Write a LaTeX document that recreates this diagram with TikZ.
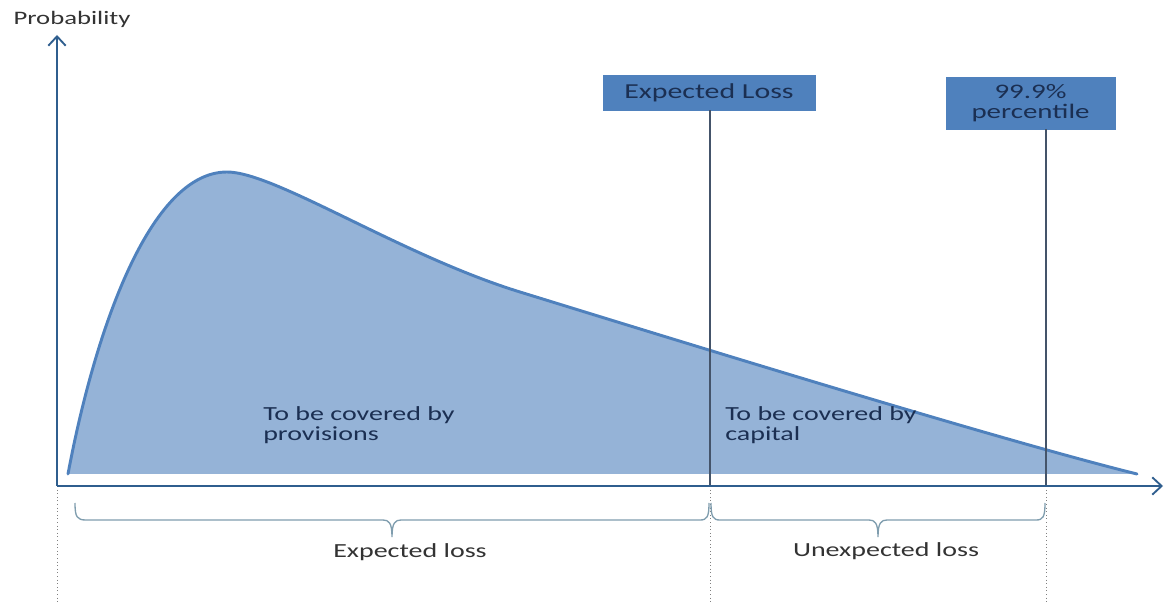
\documentclass[tikz,border=0pt]{standalone}
\usepackage{fontspec}
\setmainfont[FakeStretch=1.4]{Carlito}
\usetikzlibrary{arrows.meta}
\definecolor{areafill}{HTML}{95B3D7}
\definecolor{curveline}{HTML}{4F81BD}
\definecolor{boxfill}{HTML}{4F81BD}
\definecolor{navy}{HTML}{1B2F52}
\definecolor{axiscol}{HTML}{2F5E8E}
\definecolor{vlinecol}{HTML}{44546A}
\definecolor{bracecol}{HTML}{7F9DAE}
\definecolor{labelcol}{HTML}{333333}
\tikzset{
  axis/.style={draw=axiscol, line width=1.6pt, -{Straight Barb[length=7pt,width=13pt,line width=1.4pt]}},
  markbox/.style={fill=boxfill, draw=boxfill, text=navy, inner sep=0pt, align=center,
    font=\fontsize{15.5}{15}\selectfont},
  vline/.style={draw=vlinecol, line width=0.9pt},
  dotline/.style={draw=gray, line width=0.7pt, dotted},
  bracestyle/.style={draw=bracecol, line width=1pt},
  areatext/.style={text=navy, align=left, anchor=north west, inner sep=0pt,
    font=\fontsize{15}{15.5}\selectfont},
  bottomlabel/.style={text=labelcol, inner sep=0pt, font=\fontsize{15}{18}\selectfont},
}
\def\lossdist{(68,474) .. controls (95,330) and (150,172) .. (227,172)
  .. controls (275,172) and (400,255) .. (520,292)
  .. controls (700,347.5) and (1000,440) .. (1137,474)}
\begin{document}
\begin{tikzpicture}[x=0.75pt,y=-0.75pt]
\useasboundingbox (0,0) rectangle (1165,602);
% filled distribution
\fill[areafill] \lossdist -- cycle;
\draw[curveline, line width=2.2pt, line cap=round] \lossdist;
% nodes
\node (prob) [text=labelcol, inner sep=0pt, font=\fontsize{14.3}{16}\selectfont] at (72,19) {Probability};
\node (el) [markbox, font=\fontsize{16}{16}\selectfont, minimum width=159pt, minimum height=26.25pt] at (709,92.5) {Expected Loss};
\node (pc) [markbox, minimum width=126.75pt, minimum height=39pt] at (1030.5,103) {99.9\%\\percentile};
\coordinate (origin) at (57,486);
\coordinate (ytip) at (57,35);
\coordinate (xtip) at (1163,486);
\coordinate (elbase) at (710,486);
\coordinate (pcbase) at (1046,486);
% vertical lines
\draw[vline] (el.south -| elbase) -- (elbase);
\draw[vline] (pc.south -| pcbase) -- (pcbase);
% dotted lines
\draw[dotline] (origin) -- (57,602);
\draw[dotline] (elbase) -- (710,602);
\draw[dotline] (pcbase) -- (1046,602);
% axes
\draw[axis] (origin) -- (ytip);
\draw[axis] (origin) -- (xtip);
% area texts
\node (prov) [areatext] at (263,406) {To be covered by\\provisions};
\node (capi) [areatext] at (725,406) {To be covered by\\capital};
% braces
\draw[bracestyle] (75,503) .. controls (75,517) and (77,520) .. (86,520) -- (383,520)
  .. controls (389,520) and (392,523) .. (392,537) .. controls (392,523) and (395,520) .. (401,520)
  -- (700,520) .. controls (707,520) and (709,517) .. (709,503);
\draw[bracestyle] (711,503) .. controls (711,517) and (713,520) .. (720,520) -- (869,520)
  .. controls (875,520) and (878,523) .. (878,537) .. controls (878,523) and (881,520) .. (887,520)
  -- (1036,520) .. controls (1043,520) and (1045,517) .. (1045,503);
\node (exl) [bottomlabel] at (410,552) {Expected loss};
\node (unl) [bottomlabel] at (886,551) {Unexpected loss};
\end{tikzpicture}
\end{document}
